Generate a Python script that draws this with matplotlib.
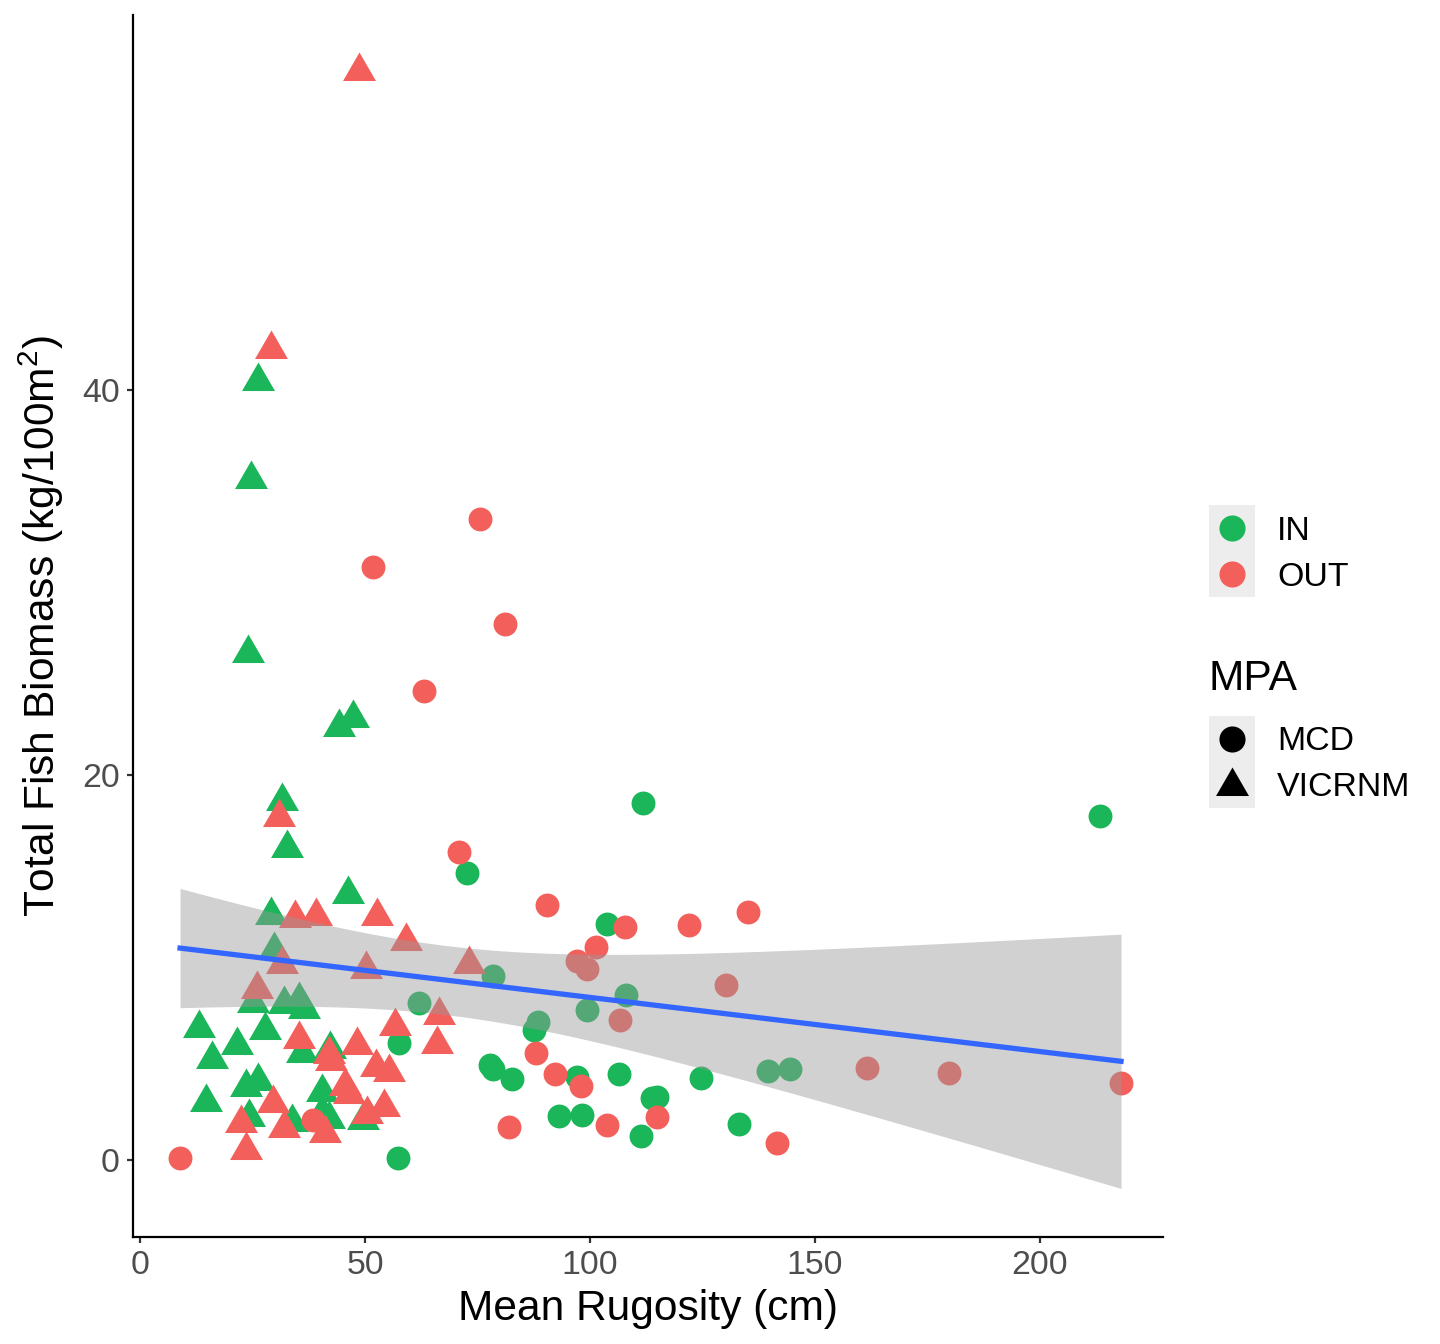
import numpy as np
import matplotlib.pyplot as plt
from matplotlib.patches import Rectangle
from matplotlib.lines import Line2D

plt.rcParams['font.family'] = ['Liberation Sans', 'DejaVu Sans']
plt.rcParams['mathtext.fontset'] = 'custom'
plt.rcParams['mathtext.rm'] = 'Liberation Sans'

# --- data (x = mean rugosity cm, y = biomass kg/100m2) ---
status_levels = ['IN', 'OUT']
mpa_levels = ['MCD', 'VICRNM']

mcd_in_x = [72.6, 62.1, 57.6, 57.3, 111.7, 213.3, 103.8, 78.4, 108.0, 99.4, 88.4, 87.6, 77.7,
            78.5, 82.7, 97.0, 106.4, 124.6, 113.7, 114.9, 93.1, 98.2, 111.3, 133.0, 139.5, 144.4]
mcd_in_y = [14.93, 8.14, 6.06, 0.12, 18.57, 17.87, 12.26, 9.54, 8.59, 7.79, 7.17, 6.77, 4.92,
            4.71, 4.19, 4.33, 4.48, 4.26, 3.24, 3.29, 2.27, 2.34, 1.25, 1.89, 4.61, 4.71]

mcd_out_x = [8.9, 38.5, 70.9, 75.6, 51.8, 81.0, 63.1, 90.5, 107.7, 122.1, 135.2, 101.3, 97.2,
             99.3, 130.2, 106.7, 87.9, 92.3, 97.9, 114.9, 103.8, 82.0, 141.5, 161.5, 179.8, 218.0]
mcd_out_y = [0.12, 2.08, 15.98, 33.3, 30.8, 27.86, 24.35, 13.25, 12.09, 12.19, 12.88, 11.08, 10.35,
             9.94, 9.11, 7.27, 5.54, 4.45, 3.84, 2.22, 1.8, 1.71, 0.9, 4.76, 4.5, 3.98]

vic_in_x = [31.6, 32.6, 46.3, 29.0, 29.8, 25.2, 32.0, 35.3, 36.4, 13.2, 27.8, 21.6, 15.9, 42.2,
            35.9, 23.5, 26.3, 14.7, 40.5, 49.6, 33.7, 40.5, 42.0, 24.2, 26.3, 24.6, 23.9, 44.3, 47.4]
vic_in_y = [18.65, 16.2, 13.83, 12.74, 10.92, 8.15, 8.11, 8.3, 7.85, 6.85, 6.75, 5.97, 5.25, 5.75,
            5.55, 3.79, 4.1, 3.01, 3.54, 2.07, 1.97, 2.44, 2.15, 2.23, 40.45, 35.4, 26.32, 22.49, 22.95]

vic_out_x = [48.7, 29.0, 30.9, 34.4, 39.0, 52.7, 59.2, 31.6, 50.3, 73.0, 26.1, 66.4, 56.7, 66.1,
             35.3, 42.0, 42.4, 48.3, 52.4, 55.4, 45.5, 46.5, 29.6, 50.4, 54.3, 22.4, 32.1, 41.0, 23.6]
vic_out_y = [56.55, 42.15, 17.81, 12.55, 12.68, 12.68, 11.4, 10.17, 9.92, 10.17, 8.86, 7.51, 6.95, 6.05,
             6.26, 5.52, 5.15, 5.97, 4.82, 4.57, 3.85, 3.45, 2.94, 2.41, 2.75, 1.9, 1.65, 1.4, 0.51]

green = '#1BB659'
red = '#F3605B'
colors = {'IN': green, 'OUT': red}
tri = [(0, 1), (-0.866, -0.5), (0.866, -0.5)]   # centroid at the data point, like R pch 17
markers = {'MCD': 'o', 'VICRNM': tri}
msize = {'MCD': 74, 'VICRNM': 188}

fig = plt.figure(figsize=(7.2, 6.72), dpi=200)
ax = fig.add_axes([133 / 1440, 1 - 1237 / 1344, (1163 - 133) / 1440, (1237 - 15) / 1344])

groups = [('MCD', 'IN', mcd_in_x, mcd_in_y), ('VICRNM', 'IN', vic_in_x, vic_in_y),
          ('MCD', 'OUT', mcd_out_x, mcd_out_y), ('VICRNM', 'OUT', vic_out_x, vic_out_y)]
for mpa, st, gx, gy in groups:
    ax.scatter(gx, gy, s=msize[mpa], marker=markers[mpa], color=colors[st],
               linewidths=0, zorder=2)

# linear fit with 95% CI (like geom_smooth(method = "lm"))
x_all = np.array(mcd_in_x + mcd_out_x + vic_in_x + vic_out_x)
y_all = np.array(mcd_in_y + mcd_out_y + vic_in_y + vic_out_y)
n = len(x_all)
b1, b0 = np.polyfit(x_all, y_all, 1)
resid = y_all - (b0 + b1 * x_all)
s = np.sqrt(np.sum(resid ** 2) / (n - 2))
df = n - 2
z = 1.959964
t = z + (z ** 3 + z) / (4 * df) + (5 * z ** 5 + 16 * z ** 3 + 3 * z) / (96 * df ** 2)
xs = np.linspace(x_all.min(), x_all.max(), 80)
fit = b0 + b1 * xs
se = s * np.sqrt(1 / n + (xs - x_all.mean()) ** 2 / np.sum((x_all - x_all.mean()) ** 2))
ax.fill_between(xs, fit - t * se, fit + t * se, color='#999999', alpha=0.45, linewidth=0, zorder=3)
ax.plot(xs, fit, color='#3366FF', lw=1.9, zorder=4)

ax.set_xlim(-1.556, 227.33)
ax.set_ylim(-4.0, 59.48)
ax.set_xticks([0, 50, 100, 150, 200])
ax.set_yticks([0, 20, 40])
for side in ['top', 'right']:
    ax.spines[side].set_visible(False)
for side in ['left', 'bottom']:
    ax.spines[side].set_linewidth(0.8)
ax.tick_params(length=2.2, width=0.8, color='#333333', labelsize=12.2, labelcolor='#4D4D4D', pad=2.5)
ax.set_xlabel('Mean Rugosity (cm)', fontsize=15.3, labelpad=3)
ax.set_ylabel(r'Total Fish Biomass (kg/100m$^{\mathregular{2}}$)', fontsize=15.3, labelpad=6)


def fx(px):
    return px / 1440


def fy(py):
    return 1 - py / 1344


# legend 1: colour (no title)
for i, st in enumerate(status_levels):
    top = 505 + 46 * i
    fig.add_artist(Rectangle((fx(1209), fy(top + 46)), 46 / 1440, 46 / 1344,
                             transform=fig.transFigure, color='#EDEDED', lw=0))
    fig.add_artist(Line2D([fx(1232)], [fy(top + 23)], marker='o', markersize=9.4, color=colors[st],
                          markeredgewidth=0, transform=fig.transFigure))
    fig.text(fx(1277), fy(top + 26), st, fontsize=12.2, va='center', ha='left')

# legend 2: shape
fig.text(fx(1209), fy(679), 'MPA', fontsize=15.3, va='center', ha='left')
for i, mp in enumerate(mpa_levels):
    top = 716 + 46 * i
    fig.add_artist(Rectangle((fx(1209), fy(top + 46)), 46 / 1440, 46 / 1344,
                             transform=fig.transFigure, color='#EDEDED', lw=0))
    fig.add_artist(Line2D([fx(1232)], [fy(top + 24 if mp == 'VICRNM' else top + 23)],
                          marker=markers[mp], markersize=9.4 if mp == 'MCD' else 13.7,
                          color='black', markeredgewidth=0, transform=fig.transFigure))
    fig.text(fx(1277), fy(top + 26), mp, fontsize=12.2, va='center', ha='left')

fig.savefig('out.png', dpi=200)
